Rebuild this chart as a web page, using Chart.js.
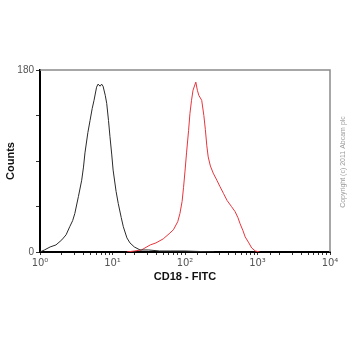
<!DOCTYPE html>
<html>
<head>
<meta charset="utf-8">
<script src="https://cdn.jsdelivr.net/npm/chart.js@4.4.0/dist/chart.umd.min.js"></script>
<style>
  html, body { margin: 0; padding: 0; background: #fff; }
  #wrap { width: 350px; height: 350px; position: relative; }
</style>
</head>
<body>
<div id="wrap"><canvas id="histo"></canvas></div>
<script>
// isotype / unstained control (black)
var blackX = [1.00, 1.15, 1.38, 1.66, 2.00, 2.29, 2.57, 2.82, 3.02, 3.39, 3.76, 3.98, 4.17, 4.57, 4.90, 5.25, 5.56, 6.03, 6.31, 6.76, 7.08, 7.41, 7.94, 8.32, 8.81, 9.23, 9.77, 10.2, 11.2, 12.0, 13.2, 14.1, 15.8, 17.4, 20.0, 24.0, 31.6, 44.7, 63.1, 100, 158, 251];
var blackY = [0, 2, 5, 7, 12, 17, 25, 31, 38, 55, 71, 84, 98, 118, 130, 142, 150, 163, 166, 164, 166, 164, 155, 147, 130, 114, 96, 81, 60, 48, 34, 25, 14, 9, 5, 2, 2, 1, 1, 1, 0.5, 0];

// CD18 - FITC stained (red)
var redX = [15.8, 20.0, 25.1, 33.1, 39.8, 50.1, 60.3, 69.2, 79.4, 85.1, 91.2, 95.5, 100, 105, 112, 117, 123, 129, 141, 148, 155, 170, 182, 191, 200, 209, 224, 245, 275, 302, 339, 380, 437, 490, 537, 575, 631, 676, 759, 832, 933, 1072];
var redY = [0, 1, 2, 7, 9, 13, 18, 22, 30, 38, 50, 64, 80, 98, 120, 137, 150, 160, 168, 160, 155, 150, 135, 121, 105, 94, 85, 78, 71, 65, 58, 51, 45, 40, 34, 28, 21, 15, 9, 4, 1, 0];

var decadeLabels = { 1: '10\u2070', 10: '10\u00b9', 100: '10\u00b2', 1000: '10\u00b3', 10000: '10\u2074' };
var countLabels = [0, 180];

function toPoints(xs, ys){
    let pts = [];
    for(let i = 0; i < xs.length; i++){
        pts.push({ x: xs[i], y: ys[i] });
    }
    return pts;
}

// gray frame on top/right + copyright note
var framePlugin = {
    id: 'frame',
    afterDraw: function(chart){
        let ctx = chart.ctx;
        let a = chart.chartArea;
        ctx.save();
        ctx.strokeStyle = '#8a8a8a';
        ctx.lineWidth = 1.5;
        ctx.beginPath();
        ctx.moveTo(a.left, a.top);
        ctx.lineTo(a.right, a.top);
        ctx.lineTo(a.right, a.bottom);
        ctx.stroke();

        ctx.translate(343, 162);
        ctx.rotate(-Math.PI / 2);
        ctx.fillStyle = '#9a9a9a';
        ctx.font = '7px "Liberation Sans", Arial, sans-serif';
        ctx.textAlign = 'center';
        ctx.textBaseline = 'middle';
        ctx.fillText('Copyright (c) 2011 Abcam plc', 0, 0);
        ctx.restore();
    }
};

new Chart(document.getElementById('histo').getContext('2d'), {
    type: 'line',
    data: {
        datasets: [
            {
                data: toPoints(blackX, blackY),
                borderColor: '#2a2a2a',
                borderWidth: 1,
                pointRadius: 0,
                tension: 0
            },
            {
                data: toPoints(redX, redY),
                borderColor: '#e8343c',
                borderWidth: 1,
                pointRadius: 0,
                tension: 0
            }
        ]
    },
    options: {
        responsive: true,
        maintainAspectRatio: false,
        animation: false,
        layout: { padding: { top: 70, right: 20, left: 0, bottom: 48 } },
        plugins: { legend: { display: false }, tooltip: { enabled: false } },
        scales: {
            x: {
                type: 'logarithmic',
                min: 1,
                max: 10000,
                border: { color: '#000', width: 2 },
                grid: { drawOnChartArea: false, tickLength: 3, color: '#333' },
                ticks: {
                    autoSkip: false,
                    maxRotation: 0,
                    padding: 2,
                    color: '#555',
                    font: { family: '"DejaVu Sans", sans-serif', size: 10 },
                    callback: function(value){
                        return decadeLabels[value] || '';
                    }
                },
                title: {
                    display: true,
                    text: 'CD18 - FITC',
                    color: '#111',
                    font: { family: '"Liberation Sans", Arial, sans-serif', size: 11, weight: 'bold' },
                    padding: { top: 0, bottom: 18 }
                },
                afterFit: function(scale){ scale.height = 50; }
            },
            y: {
                min: 0,
                max: 180,
                border: { color: '#000', width: 2 },
                grid: { drawOnChartArea: false, tickLength: 4, color: '#333' },
                ticks: {
                    stepSize: 45,
                    padding: 2,
                    color: '#555',
                    font: { family: '"Liberation Sans", Arial, sans-serif', size: 10 },
                    callback: function(value){
                        return countLabels.indexOf(value) >= 0 ? String(value) : '';
                    }
                },
                title: {
                    display: true,
                    text: 'Counts',
                    color: '#111',
                    font: { family: '"Liberation Sans", Arial, sans-serif', size: 11, weight: 'bold' },
                    padding: { top: 4, bottom: 0 }
                },
                afterFit: function(scale){ scale.width = 40; }
            }
        }
    },
    plugins: [framePlugin]
});
</script>
</body>
</html>
